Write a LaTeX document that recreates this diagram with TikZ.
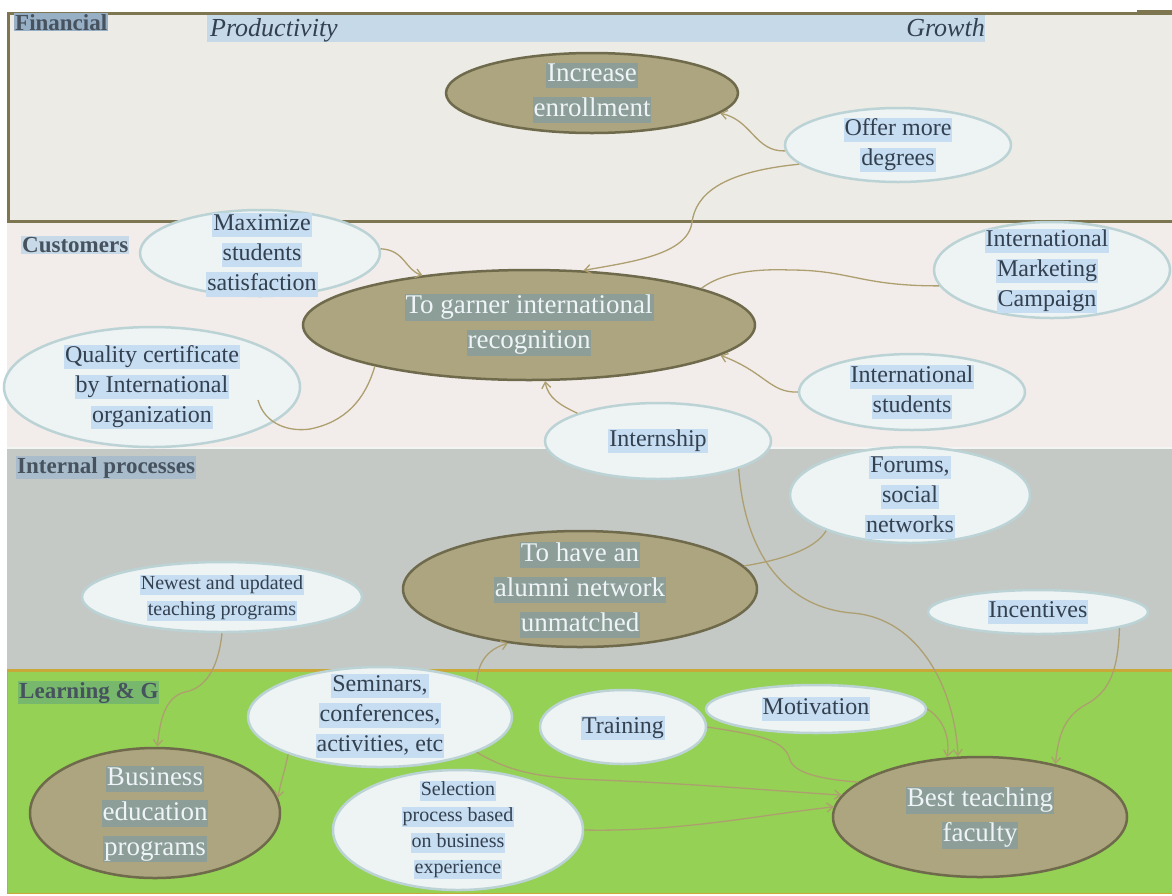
\documentclass[tikz,border=0pt]{standalone}
\usepackage{fontspec}
\setmainfont{Liberation Serif}
\usetikzlibrary{shapes.geometric,arrows.meta}
\definecolor{finfill}{HTML}{ECEBE5}
\definecolor{finline}{HTML}{7D7650}
\definecolor{custfill}{HTML}{F2EDEA}
\definecolor{intfill}{HTML}{C4C9C6}
\definecolor{learnfill}{HTML}{94D154}
\definecolor{learnline}{HTML}{C8A838}
\definecolor{darkfill}{HTML}{ADA57F}
\definecolor{darkline}{HTML}{6F6A4C}
\definecolor{lightfill}{HTML}{EEF3F4}
\definecolor{lightline}{HTML}{BCD3D6}
\definecolor{hlb}{HTML}{C7DDF1}
\definecolor{hld}{HTML}{8C9E97}
\definecolor{darktext}{HTML}{EEF4F7}
\definecolor{lighttext}{HTML}{33404F}
\definecolor{conncol}{HTML}{AE9F70}
\definecolor{labeltext}{HTML}{46525E}
\definecolor{hlfin}{HTML}{98B0C6}
\definecolor{hlcust}{HTML}{C8D9E8}
\definecolor{hlint}{HTML}{A9BCCB}
\definecolor{hllearn}{HTML}{78B86C}
\definecolor{barcol}{HTML}{C5D9E8}
\setlength{\fboxsep}{1pt}
\newcommand\hb[1]{\colorbox{hlb}{\vphantom{Ag}#1}}
\newcommand\hd[1]{\colorbox{hld}{\vphantom{Ag}#1}}
\begin{document}
\begin{tikzpicture}[x=1pt,y=-1pt,
  darkE/.style={ellipse, draw=darkline, fill=darkfill, line width=2.5pt, inner sep=0pt},
  lightE/.style={ellipse, draw=lightline, fill=lightfill, line width=2.5pt, inner sep=0pt},
  darkT/.style={align=center, text=darktext, inner sep=0pt, font=\fontsize{27}{35}\selectfont},
  lightT/.style={align=center, text=lighttext, inner sep=0pt, font=\fontsize{24}{30}\selectfont},
  smallT/.style={align=center, text=lighttext, inner sep=0pt, font=\fontsize{20}{26}\selectfont},
  conn/.style={draw=conncol, line width=1.3pt},
  arr/.style={conn, -{Straight Barb[length=6pt,width=9pt]}},
  bandlabel/.style={anchor=north west, inner sep=1pt, text=labeltext, font=\fontsize{23}{26}\selectfont\bfseries}
]
\useasboundingbox (0,0) rectangle (1172,895);
\fill[white] (0,0) rectangle (1172,895);
% bands
\fill[custfill] (7,222) rectangle (1172,448);
\fill[intfill] (7,448) rectangle (1172,670);
\draw[white!80!intfill, line width=2pt] (7,448) -- (1172,448);
\fill[learnfill] (7,670) rectangle (1172,893);
\draw[learnline, line width=1pt] (7,670) -- (7,893) -- (1172,893);
\draw[learnline, line width=3pt] (7,670) -- (1172,670);
\draw[finline, line width=3pt, fill=finfill] (8,13) rectangle (1185,221);
\draw[finline, line width=4pt] (1137,12) -- (1172,12);
% top bar
\fill[barcol] (207,15) rectangle (985,42);
\node[anchor=base west, inner sep=0pt, text=lighttext, font=\fontsize{26}{30}\selectfont\itshape] (prod) at (210,36) {Productivity};
\node[anchor=base east, inner sep=0pt, text=lighttext, font=\fontsize{26}{30}\selectfont\itshape] (grow) at (985,36) {Growth};
% band labels
\node[bandlabel, fill=hlfin] (lfin) at (14,13) {Financial};
\node[bandlabel, fill=hlcust] (lcust) at (21,236) {Customers};
\node[bandlabel, fill=hlint] (lint) at (16,456) {Internal processes};
\node[bandlabel, fill=hllearn] (llearn) at (18,681) {Learning \& G};
% ellipses
\node[darkE, minimum width=292, minimum height=80] (inc) at (592,93) {};
\node[lightE, minimum width=226, minimum height=74] (off) at (898,145) {};
\node[lightE, minimum width=240, minimum height=86] (max) at (260,253) {};
\node[darkE, minimum width=452, minimum height=110] (gar) at (529,325) {};
\node[lightE, minimum width=236, minimum height=96] (mkt) at (1052,270) {};
\node[lightE, minimum width=296, minimum height=120] (qual) at (152,387) {};
\node[lightE, minimum width=226, minimum height=76] (stu) at (912,392) {};
\node[lightE, minimum width=226, minimum height=76] (intern) at (658,441) {};
\node[lightE, minimum width=240, minimum height=96] (for) at (910,495) {};
\node[darkE, minimum width=354, minimum height=116] (alu) at (580,589) {};
\node[lightE, minimum width=280, minimum height=70] (new) at (222,597) {};
\node[lightE, minimum width=220, minimum height=44] (ince) at (1038,612) {};
\node[lightE, minimum width=264, minimum height=100] (sem) at (380,717) {};
\node[lightE, minimum width=166, minimum height=74] (tr) at (623,727) {};
\node[lightE, minimum width=220, minimum height=48] (mot) at (816,709) {};
\node[darkE, minimum width=250, minimum height=130] (bus) at (155,813) {};
\node[lightE, minimum width=250, minimum height=120] (sel) at (458,830) {};
\node[darkE, minimum width=294, minimum height=120] (best) at (980,817) {};
% texts
\node[darkT] (incT) at (592,93) {\hd{Increase}\\\hd{enrollment}};
\node[lightT] (offT) at (898,145) {\hb{Offer more}\\\hb{degrees}};
\node[lightT] (maxT) at (262,255) {\hb{Maximize}\\\hb{students}\\\hb{satisfaction}};
\node[darkT] (garT) at (529,325) {\hd{To garner international}\\\hd{recognition}};
\node[lightT] (mktT) at (1047,271) {\hb{International}\\\hb{Marketing}\\\hb{Campaign}};
\node[lightT] (qualT) at (152,387) {\hb{Quality certificate}\\\hb{by International}\\\hb{organization}};
\node[lightT] (stuT) at (912,392) {\hb{International}\\\hb{students}};
\node[lightT] (internT) at (658,441) {\hb{Internship}};
\node[lightT] (forT) at (910,497) {\hb{Forums,}\\\hb{social}\\\hb{networks}};
\node[darkT] (aluT) at (580,590) {\hd{To have an}\\\hd{alumni network}\\\hd{unmatched}};
\node[smallT] (newT) at (222,598) {\hb{Newest and updated}\\\hb{teaching programs}};
\node[lightT] (inceT) at (1038,612) {\hb{Incentives}};
\node[lightT] (semT) at (380,716) {\hb{Seminars,}\\\hb{conferences,}\\\hb{activities, etc}};
\node[lightT] (trT) at (623,728) {\hb{Training}};
\node[lightT] (motT) at (816,709) {\hb{Motivation}};
\node[darkT] (busT) at (155,814) {\hd{Business}\\\hd{education}\\\hd{programs}};
\node[smallT] (selT) at (458,830) {\hb{Selection}\\\hb{process based}\\\hb{on business}\\\hb{experience}};
\node[darkT] (bestT) at (980,818) {\hd{Best teaching}\\\hd{faculty}};
% connectors
\coordinate (qs) at (258,400);
\draw[arr] (off.183) .. controls (755,152) and (752,120) .. (inc.-9);
\draw[arr] (off.191) .. controls (720,172) and (696,195) .. (692,222) .. controls (688,255) and (630,262) .. (gar.45);
\draw[arr] (max.2) .. controls (405,250) and (405,270) .. (gar.155);
\draw[conn] (mkt.188) .. controls (860,286) and (850,270) .. (790,270) .. controls (740,268) and (715,278) .. (gar.12);
\draw[arr] (stu.180) .. controls (770,393) and (765,372) .. (gar.-9);
\draw[conn] (qs) .. controls (265,425) and (290,432) .. (310,429) .. controls (345,422) and (365,400) .. (gar.195);
\draw[arr] (intern.161) .. controls (560,405) and (548,398) .. (gar.-74);
\draw[arr] (intern.-19) .. controls (745,560) and (790,608) .. (852,613) .. controls (920,618) and (955,690) .. (best.110);
\draw[arr] (mot.0) .. controls (945,720) and (950,740) .. (best.119);
\draw[arr] (ince.-11) .. controls (1118,670) and (1110,692) .. (1085,705) .. controls (1062,718) and (1058,740) .. (best.35);
\draw[conn] (for.203) .. controls (815,550) and (780,560) .. (alu.8);
\draw[arr] (new.-90) .. controls (218,670) and (205,688) .. (185,692) .. controls (165,697) and (160,720) .. (bus.88);
\draw[arr] (sem.202) .. controls (285,770) and (280,785) .. (bus.7);
\draw[arr] (sem.20) .. controls (478,665) and (485,650) .. (alu.217);
\draw[arr] (sem.-20) .. controls (510,772) and (540,778) .. (600,780) .. controls (700,784) and (790,792) .. (best.171);
\draw[arr] (sel.0) .. controls (680,832) and (760,815) .. (best.176);
\draw[conn] (tr.0) .. controls (760,735) and (785,740) .. (790,760) .. controls (795,775) and (830,780) .. (best.164);
\end{tikzpicture}
\end{document}
